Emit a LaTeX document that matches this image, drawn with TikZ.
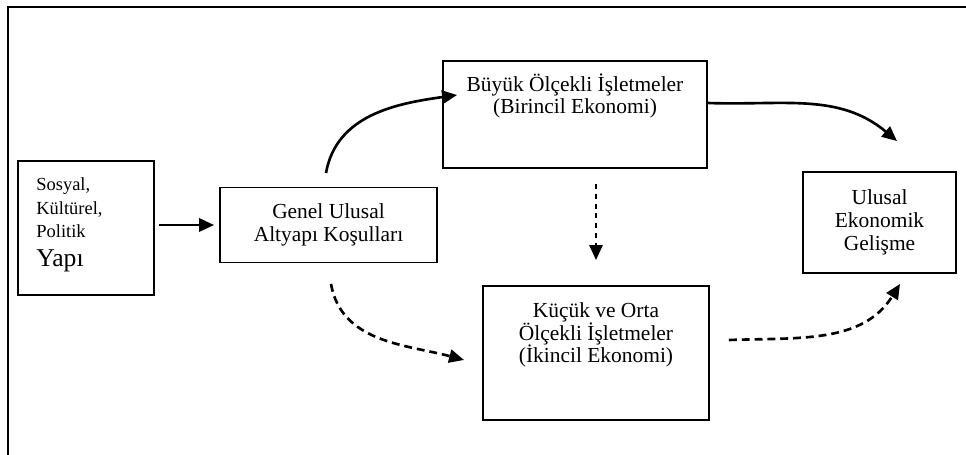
\documentclass[tikz,border=0pt]{standalone}
\usepackage{fontspec}
\setmainfont{Liberation Serif}
\usetikzlibrary{positioning, arrows.meta}

\tikzset{
  box/.style={draw=black, line width=1.1pt, inner sep=0pt, align=center,
    font=\fontsize{12.2}{13}\selectfont},
  txt/.style={inner sep=0pt, align=center, font=\fontsize{12.2}{13}\selectfont},
  flow/.style={line width=1.5pt, -{Triangle[length=8.5pt, width=7.5pt]}},
  weak/.style={flow, dash pattern=on 4.5pt off 2.8pt},
}

\begin{document}
\begin{tikzpicture}[x=0.02cm, y=-0.02cm]
% 1px of the page = 0.02cm, y runs downwards like the page
\useasboundingbox (0,0) rectangle (966,455);
\draw[line width=1.1pt] (8,455) -- (8,7) -- (966,7);

% the five boxes, centres at page positions
\node[box, minimum width=2.72cm, minimum height=2.68cm] (social) at (86,228) {};
\node[box, minimum width=4.34cm, minimum height=1.5cm] (infra) at (328.5,225)
  {Genel Ulusal\\Altyapı Koşulları};
\node[box, minimum width=5.28cm, minimum height=2.14cm] (large) at (575,114.5) {};
\node[box, minimum width=4.52cm, minimum height=2.68cm] (small) at (596,353) {};
\node[box, minimum width=3.06cm, minimum height=2.02cm] (growth) at (879.5,222.5)
  {Ulusal\\Ekonomik\\Gelişme};

% texts that sit high or to the left in their box
\node[txt, align=left, font=\fontsize{10.5}{13.6}\selectfont,
  below right=0.34cm and 0.38cm of social.north west] (socialtxt)
  {Sosyal,\\Kültürel,\\Politik\\[2.5pt]{\fontsize{14.6}{16}\selectfont Yapı}};
\node[txt, below=0.26cm of large.north] (largetxt)
  {Büyük Ölçekli İşletmeler\\(Birincil Ekonomi)};
\node[txt, below=0.34cm of small.north] (smalltxt)
  {Küçük ve Orta\\Ölçekli İşletmeler\\(İkincil Ekonomi)};

% solid links
\draw[flow, shorten <=0.08cm, shorten >=0.1cm] (social.east |- infra.west) -- (infra.west);
\draw[flow] ([xshift=-0.05cm, yshift=0.27cm]infra.north) to[out=80, in=188]
  ([xshift=0.3cm, yshift=0.39cm]large.west);
\draw[flow] ([yshift=0.23cm]large.east) to[out=-2, in=140]
  ([xshift=0.35cm, yshift=0.6cm]growth.north);

% dashed links
\coordinate (drop) at (large.south -| small.north);
\draw[weak, line width=1.2pt, dash pattern=on 2.8pt off 2.8pt]
  ([yshift=-0.3cm]drop) -- ([yshift=0.5cm]small.north);
\draw[weak] ([xshift=0.05cm, yshift=-0.41cm]infra.south) to[out=-80, in=165]
  ([xshift=-0.36cm, yshift=-0.14cm]small.west);
\draw[weak] ([xshift=0.38cm, yshift=0.26cm]small.east) to[out=2, in=-122]
  ([xshift=0.41cm, yshift=-0.2cm]growth.south);
\end{tikzpicture}
\end{document}
